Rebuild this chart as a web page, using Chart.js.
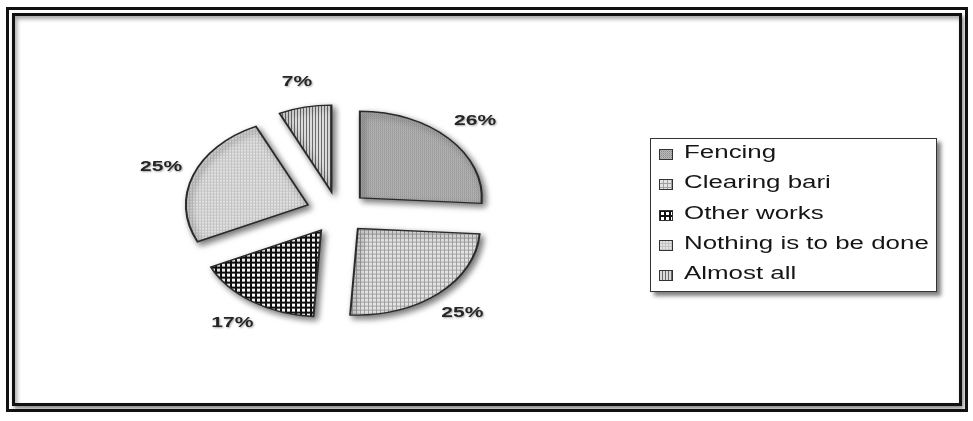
<!DOCTYPE html>
<html>
<head>
<meta charset="utf-8">
<script src="https://cdn.jsdelivr.net/npm/chart.js@4/dist/chart.umd.min.js"></script>
<style>
  html, body { margin: 0; padding: 0; background: #fff; }
  #page { position: relative; width: 973px; height: 421px; overflow: hidden; }
  .frame { position: absolute; box-sizing: border-box; filter: blur(0.7px); }
  #frameOuter { left: 6px; top: 7px; width: 962px; height: 405px; border: 3px solid #111; }
  #frameInner { left: 12px; top: 13px; width: 950px; height: 393px; border: 3px solid #111;
                box-shadow: inset 2px 3px 4px rgba(0,0,0,0.35), 2px 3px 4px rgba(0,0,0,0.45); }
  #chartBox { position: absolute; left: 0; top: 0; width: 973px; height: 421px; }
  #legend { position: absolute; left: 650px; top: 138px; width: 287px; height: 154px; box-sizing: border-box;
            background: #fff; border: 1.5px solid #333; box-shadow: 4px 4px 4px rgba(0,0,0,0.5); }
  .item { position: absolute; left: 0; height: 30px; width: 100%; }
  .item canvas { position: absolute; left: 8px; top: 10px; }
  .item span { position: absolute; left: 33px; top: 3px; font: 17.5px "Liberation Sans", Arial, sans-serif;
               color: #161616; white-space: nowrap; transform: scaleX(1.48); transform-origin: 0 0; }
</style>
</head>
<body>
<div id="page">
  <div class="frame" id="frameOuter"></div>
  <div class="frame" id="frameInner"></div>
  <div id="chartBox"><canvas id="pie"></canvas></div>
  <div id="legend"></div>
</div>
<script>
// share of each answer, clockwise from 12 o'clock
const sliceLabels = ['Fencing', 'Clearing bari', 'Other works', 'Nothing is to be done', 'Almost all'];
const sliceValues = [26, 25, 17, 25, 7];

const SQUISH = 0.71;          // vertical flattening of the pie
const LABEL_R = 188;          // radius where percentages sit
const explode = [30, 30, 30, 32, 30];

// little bitmap tiles used as hatch fills
function makeTile(i) {
  const c = document.createElement('canvas');
  const g = c.getContext('2d');
  if (i === 0) {
    c.width = c.height = 2;
    g.fillStyle = '#b9b9b9'; g.fillRect(0, 0, 2, 2);
    g.fillStyle = '#8a8a8a'; g.fillRect(0, 0, 1, 1);
    g.fillStyle = '#a4a4a4'; g.fillRect(1, 1, 1, 1);
  } else if (i === 1) {
    c.width = c.height = 4;
    g.fillStyle = '#e4e4e4'; g.fillRect(0, 0, 4, 4);
    g.fillStyle = '#a0a0a0'; g.fillRect(0, 0, 4, 1); g.fillRect(0, 0, 1, 4);
  } else if (i === 2) {
    c.width = c.height = 5;
    g.fillStyle = '#ffffff'; g.fillRect(0, 0, 5, 5);
    g.fillStyle = '#111111'; g.fillRect(0, 0, 5, 2); g.fillRect(0, 0, 2, 5);
  } else if (i === 3) {
    c.width = c.height = 3;
    g.fillStyle = '#e2e2e2'; g.fillRect(0, 0, 3, 3);
    g.fillStyle = '#c4c4c4'; g.fillRect(0, 0, 3, 1); g.fillRect(0, 0, 1, 3);
  } else {
    c.width = 3; c.height = 1;
    g.fillStyle = '#dcdcdc'; g.fillRect(0, 0, 3, 1);
    g.fillStyle = '#6a6a6a'; g.fillRect(0, 0, 1, 1);
  }
  return c;
}

function makePattern(ctx, i, sy) {
  const p = ctx.createPattern(makeTile(i), 'repeat');
  if (sy !== 1) p.setTransform(new DOMMatrix().scale(1, sy));
  return p;
}

const pieCanvas = document.getElementById('pie');
const pieCtx = pieCanvas.getContext('2d');
const fills = sliceLabels.map((_, i) => makePattern(pieCtx, i, 1 / SQUISH));

const pieLook = {
  id: 'pieLook',
  afterDatasetUpdate(chart, args) {
    const arcs = args.meta.data;
    chart.$center = { x: arcs[0].x, y: arcs[0].y };
    arcs.forEach((arc, i) => {
      const mid = (arc.startAngle + arc.endAngle) / 2;
      arc.x += Math.cos(mid) * explode[i];
      arc.y += Math.sin(mid) * explode[i];
    });
  },
  beforeDatasetsDraw(chart) {
    const ctx = chart.ctx;
    const c = chart.$center;
    ctx.save();
    ctx.translate(c.x, c.y);
    ctx.scale(1, SQUISH);
    ctx.translate(-c.x, -c.y);
    ctx.shadowColor = 'rgba(0,0,0,0.55)';
    ctx.shadowBlur = 6;
    ctx.shadowOffsetX = 3;
    ctx.shadowOffsetY = 3;
  },
  afterDatasetsDraw(chart) {
    const ctx = chart.ctx;
    ctx.restore();
    const c = chart.$center;
    chart.getDatasetMeta(0).data.forEach((arc, i) => {
      const mid = (arc.startAngle + arc.endAngle) / 2;
      const x = c.x + Math.cos(mid) * LABEL_R;
      const y = c.y + Math.sin(mid) * LABEL_R * SQUISH;
      ctx.save();
      ctx.translate(x, y);
      ctx.scale(1.4, 1);
      ctx.font = 'bold 15px "Liberation Sans", Arial, sans-serif';
      ctx.textAlign = 'center';
      ctx.textBaseline = 'middle';
      ctx.fillStyle = '#262626';
      ctx.shadowColor = 'rgba(0,0,0,0.35)';
      ctx.shadowBlur = 2;
      ctx.shadowOffsetX = 1;
      ctx.shadowOffsetY = 1;
      ctx.fillText(sliceValues[i] + '%', 0, 0);
      ctx.restore();
    });
  }
};

new Chart(pieCtx, {
  type: 'pie',
  data: {
    labels: sliceLabels,
    datasets: [{
      data: sliceValues,
      backgroundColor: fills,
      borderColor: '#2a2a2a',
      borderWidth: 2,
      borderJoinStyle: 'miter',
      clip: false
    }]
  },
  options: {
    responsive: true,
    maintainAspectRatio: false,
    animation: false,
    events: [],
    layout: { padding: { left: 215, right: 512, top: 89.5, bottom: 85.5 } },
    plugins: { legend: { display: false }, tooltip: { enabled: false } }
  },
  plugins: [pieLook]
});

// legend box
const legend = document.getElementById('legend');
sliceLabels.forEach((name, i) => {
  const row = document.createElement('div');
  row.className = 'item';
  row.style.top = (i * 30.3) + 'px';
  const sw = document.createElement('canvas');
  sw.width = 14; sw.height = 11;
  const g = sw.getContext('2d');
  g.fillStyle = makePattern(g, i, 1);
  g.fillRect(0, 0, 14, 11);
  g.strokeStyle = '#333';
  g.lineWidth = 1;
  g.strokeRect(0.5, 0.5, 13, 10);
  const tx = document.createElement('span');
  tx.textContent = name;
  row.appendChild(sw);
  row.appendChild(tx);
  legend.appendChild(row);
});
</script>
</body>
</html>
